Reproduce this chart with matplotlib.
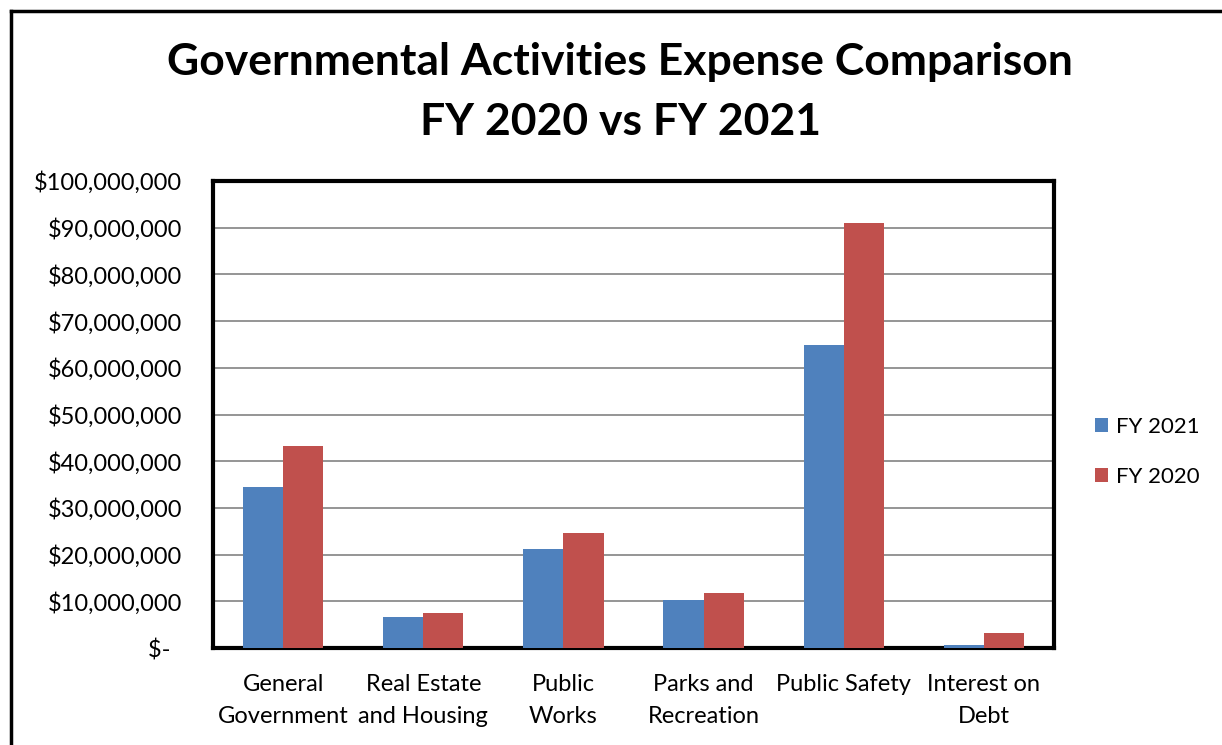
import matplotlib.pyplot as plt
import numpy as np

# ---- data ----
categories = ['General\nGovernment', 'Real Estate\nand Housing', 'Public\nWorks',
              'Parks and\nRecreation', 'Public Safety', 'Interest on\nDebt']
fy2021 = [34.5e6, 6.6e6, 21.2e6, 10.3e6, 64.9e6, 0.6e6]
fy2020 = [43.3e6, 7.5e6, 24.6e6, 11.8e6, 91.0e6, 3.2e6]
yticks = np.arange(0, 100e6 + 1, 10e6)
ytick_labels = ['$-  '] + ['${:,.0f}'.format(v) for v in yticks[1:]]

plt.rcParams['font.family'] = ['Lato', 'DejaVu Sans']

blue = '#4f81bd'
red = '#c0504d'

fig = plt.figure(figsize=(12.22, 7.45), dpi=100)
ax = fig.add_axes([213 / 1222, 1 - 648 / 745, 841 / 1222, 467 / 745])

x = np.arange(len(categories))
w = 0.286
ax.bar(x - w / 2, fy2021, w, color=blue, label='FY 2021', zorder=3)
ax.bar(x + w / 2, fy2020, w, color=red, label='FY 2020', zorder=3)

ax.set_xlim(-0.5, len(categories) - 0.5)
ax.set_ylim(0, 100e6)
ax.set_yticks(yticks)
ax.set_yticklabels(ytick_labels, fontsize=17)
ax.set_xticks(x)
ax.set_xticklabels(categories, fontsize=17, linespacing=1.6)
ax.tick_params(axis='both', length=0)
ax.tick_params(axis='y', pad=22)
ax.tick_params(axis='x', pad=19)
ax.grid(axis='y', color='#8c8c8c', linewidth=1.3, zorder=0)
for s in ax.spines.values():
    s.set_linewidth(3)
    s.set_color('black')

ax.legend(loc='center left', bbox_to_anchor=(1.025, 0.42), frameon=False,
          fontsize=16, handlelength=0.6, handleheight=0.6, labelspacing=1.35,
          handletextpad=0.35)

fig.text(620 / 1222, 1 - 62 / 745, 'Governmental Activities Expense Comparison',
         ha='center', va='center', fontsize=32, fontweight='bold')
fig.text(620 / 1222, 1 - 122 / 745, 'FY 2020 vs FY 2021',
         ha='center', va='center', fontsize=32, fontweight='bold')

# outer chart border (only left and top edges show in the frame)
fig.add_artist(plt.Line2D([11 / 1222, 11 / 1222], [0, 1 - 11 / 745],
                          color='black', linewidth=2.5))
fig.add_artist(plt.Line2D([11 / 1222, 1], [1 - 11 / 745, 1 - 11 / 745],
                          color='black', linewidth=2.5))

fig.savefig('out.png', dpi=100)
